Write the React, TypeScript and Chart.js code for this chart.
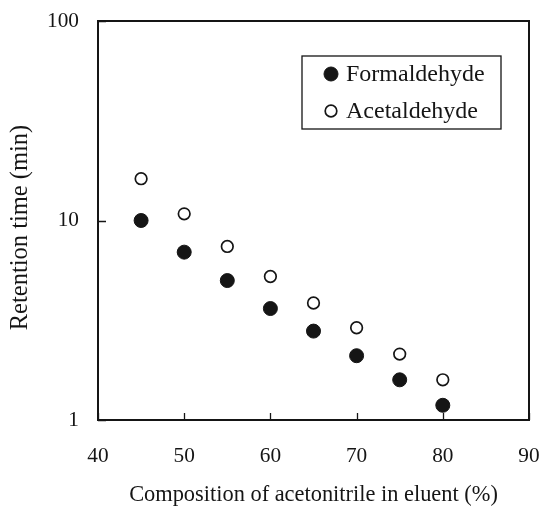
import React, { useEffect, useRef } from 'react';
import { Chart, registerables } from 'chart.js';

Chart.register(...registerables);

const xValues = [45, 50, 55, 60, 65, 70, 75, 80];
const formaldehyde = [10.0, 6.94, 5.0, 3.62, 2.79, 2.1, 1.59, 1.185];
const acetaldehyde = [16.2, 10.8, 7.41, 5.24, 3.86, 2.9, 2.14, 1.59];
const xTicks = [40, 50, 60, 70, 80, 90];
const yTicks = [1, 10, 100];
const seriesNames = ['Formaldehyde', 'Acetaldehyde'];
const xTitle = 'Composition of acetonitrile in eluent (%)';
const yTitle = 'Retention time (min)';

const FONT = "'Liberation Serif', 'Times New Roman', serif";
const INK = '#151515';

const framePlugin = {
  id: 'frameAndTicks',
  afterDraw(chart: any) {
    const { ctx, chartArea } = chart;
    const xs = chart.scales.x;
    const ys = chart.scales.y;
    ctx.save();
    ctx.strokeStyle = INK;
    ctx.lineWidth = 2;
    ctx.strokeRect(chartArea.left, chartArea.top, chartArea.right - chartArea.left, chartArea.bottom - chartArea.top);
    ctx.lineWidth = 1.3;
    ctx.beginPath();
    xTicks.forEach((v) => {
      const px = Math.round(xs.getPixelForValue(v)) + 0.5;
      ctx.moveTo(px, chartArea.bottom);
      ctx.lineTo(px, chartArea.bottom - 7);
    });
    yTicks.forEach((v) => {
      const py = Math.round(ys.getPixelForValue(v)) + 0.5;
      ctx.moveTo(chartArea.left, py);
      ctx.lineTo(chartArea.left + 8, py);
    });
    ctx.stroke();
    // y-axis title, drawn slightly below the plot centre as in the original
    ctx.save();
    ctx.translate(chartArea.left - 71, (chartArea.top + chartArea.bottom) / 2 + 7);
    ctx.rotate(-Math.PI / 2);
    ctx.font = `24.5px ${FONT}`;
    ctx.fillStyle = INK;
    ctx.textAlign = 'center';
    ctx.textBaseline = 'alphabetic';
    ctx.fillText(yTitle, 0, 0);
    ctx.restore();
    ctx.restore();
  },
};

const legendPlugin = {
  id: 'boxLegend',
  afterDraw(chart: any) {
    const { ctx, chartArea } = chart;
    const left = chartArea.left + 204;
    const top = chartArea.top + 35;
    const w = 199;
    const h = 73;
    ctx.save();
    ctx.fillStyle = '#fff';
    ctx.fillRect(left, top, w, h);
    ctx.strokeStyle = INK;
    ctx.lineWidth = 1.3;
    ctx.strokeRect(left, top, w, h);
    ctx.font = `24px ${FONT}`;
    ctx.textBaseline = 'middle';
    ctx.textAlign = 'left';
    chart.data.datasets.forEach((ds: any, i: number) => {
      const cy = top + 18 + i * 37;
      const cx = left + 29;
      ctx.beginPath();
      ctx.arc(cx, cy, ds.pointRadius, 0, Math.PI * 2);
      ctx.fillStyle = ds.backgroundColor;
      ctx.fill();
      ctx.lineWidth = ds.borderWidth;
      ctx.strokeStyle = ds.borderColor;
      ctx.stroke();
      ctx.fillStyle = INK;
      ctx.fillText(ds.label, left + 44, cy + 1);
    });
    ctx.restore();
  },
};

export default function App() {
  const ref = useRef<HTMLCanvasElement | null>(null);
  useEffect(() => {
    if (!ref.current) return;
    const chart = new Chart(ref.current, {
      type: 'scatter',
      data: {
        datasets: [
          {
            label: seriesNames[0],
            data: xValues.map((x, i) => ({ x, y: formaldehyde[i] })),
            backgroundColor: INK,
            borderColor: INK,
            borderWidth: 1,
            pointRadius: 7,
            pointHoverRadius: 7,
          },
          {
            label: seriesNames[1],
            data: xValues.map((x, i) => ({ x, y: acetaldehyde[i] })),
            backgroundColor: '#ffffff',
            borderColor: INK,
            borderWidth: 1.7,
            pointRadius: 5.8,
            pointHoverRadius: 5.8,
          },
        ],
      },
      options: {
        responsive: false,
        animation: false,
        layout: { padding: { top: 21, right: 14, left: 0, bottom: 0 } },
        plugins: { legend: { display: false }, tooltip: { enabled: false } },
        scales: {
          x: {
            type: 'linear',
            min: 40,
            max: 90,
            afterBuildTicks: (s: any) => {
              s.ticks = xTicks.map((v) => ({ value: v }));
            },
            afterFit: (s: any) => {
              s.height = 87;
              s.paddingLeft = 0;
              s.paddingRight = 0;
            },
            grid: { display: false, drawTicks: false },
            border: { display: false },
            ticks: {
              padding: 23.5,
              color: INK,
              font: { family: FONT, size: 21.3 },
              callback: (v: any) => String(v),
            },
            title: {
              display: true,
              text: xTitle,
              color: INK,
              font: { family: FONT, size: 22.4, lineHeight: 1.05 },
              padding: { top: 0, bottom: 0 },
            },
          },
          y: {
            type: 'logarithmic',
            min: 1,
            max: 100,
            afterBuildTicks: (s: any) => {
              s.ticks = yTicks.map((v) => ({ value: v }));
            },
            afterFit: (s: any) => {
              s.width = 98;
              s.paddingTop = 0;
              s.paddingBottom = 0;
            },
            grid: { display: false, drawTicks: false },
            border: { display: false },
            ticks: {
              padding: 19,
              color: INK,
              font: { family: FONT, size: 21.3 },
              callback: (v: any) => String(v),
            },
            title: { display: false, text: yTitle },
          },
        },
      },
      plugins: [framePlugin, legendPlugin],
    });
    return () => chart.destroy();
  }, []);
  return (
    <div style={{ position: 'absolute', left: 0, top: 0, width: 543, height: 507, background: '#fff' }}>
      <canvas ref={ref} width={543} height={507} />
    </div>
  );
}
